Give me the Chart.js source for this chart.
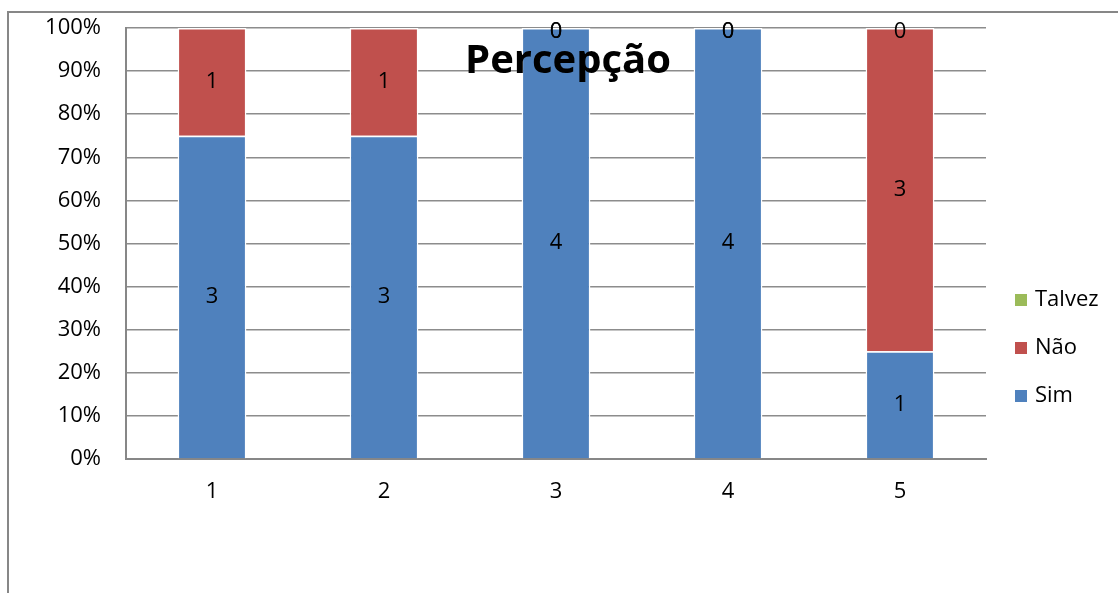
<!DOCTYPE html>
<html>
<head>
<meta charset="utf-8">
<script src="https://cdn.jsdelivr.net/npm/chart.js@4/dist/chart.umd.min.js"></script>
<style>
  html, body { margin: 0; padding: 0; background: #fff; }
  #wrap { width: 1118px; height: 593px; position: relative; }
</style>
</head>
<body>
<div id="wrap"><canvas id="mainChart"></canvas></div>
<script>
// Daten
const categories = ['1', '2', '3', '4', '5'];
const simCounts = [3, 3, 4, 4, 1];
const naoCounts = [1, 1, 0, 0, 3];
const talvezCounts = [null, null, 0, 0, 0];
const seriesNames = ['Sim', 'Não', 'Talvez'];
const seriesColors = ['#4F81BD', '#C0504D', '#9BBB59'];
const chartTitle = 'Percepção';

const FONT = '"Open Sans", "DejaVu Sans", sans-serif';
const FONT_SIZE = 22;

// Umrechnung in Prozent (100% gestapelt)
const totals = categories.map((c, i) =>
    (simCounts[i] || 0) + (naoCounts[i] || 0) + (talvezCounts[i] || 0));
const toPct = arr => arr.map((v, i) => v === null ? null : v / totals[i] * 100);

const rawCounts = [simCounts, naoCounts, talvezCounts];

const datasets = rawCounts.map((arr, k) => ({
    label: seriesNames[k],
    data: toPct(arr),
    backgroundColor: seriesColors[k],
    borderColor: '#ffffff',
    borderWidth: 1.5,
    borderSkipped: 'start',
    barPercentage: 0.4,
    categoryPercentage: 1.0
}));

// Rahmen um das Diagramm
const framePlugin = {
    id: 'frame',
    beforeDraw(chart) {
        const ctx = chart.ctx;
        ctx.save();
        ctx.strokeStyle = '#878787';
        ctx.lineWidth = 2;
        ctx.beginPath();
        ctx.moveTo(8, chart.height + 5);
        ctx.lineTo(8, 12);
        ctx.lineTo(chart.width + 5, 12);
        ctx.stroke();
        ctx.restore();
    }
};

// Datenbeschriftungen, Titel und Legende
const labelPlugin = {
    id: 'labels',
    afterDatasetsDraw(chart) {
        const ctx = chart.ctx;
        ctx.save();
        ctx.font = FONT_SIZE + 'px ' + FONT;
        ctx.fillStyle = '#000';
        ctx.textAlign = 'center';
        ctx.textBaseline = 'middle';
        chart.data.datasets.forEach((ds, k) => {
            const meta = chart.getDatasetMeta(k);
            meta.data.forEach((el, i) => {
                const v = rawCounts[k][i];
                if (v === null) return;
                const y = (el.y + el.base) / 2;
                ctx.fillText(String(v), el.x, v === 0 ? y + 4 : y);
            });
        });

        // Titel
        ctx.font = 'bold 40px ' + FONT;
        ctx.fillText(chartTitle, 568, 62);

        // Legende (umgekehrte Reihenfolge)
        ctx.font = FONT_SIZE + 'px ' + FONT;
        ctx.textAlign = 'left';
        const order = [2, 1, 0];
        order.forEach((k, j) => {
            const y = 300 + j * 48;
            ctx.fillStyle = seriesColors[k];
            ctx.fillRect(1015, y - 6, 12, 12);
            ctx.fillStyle = '#000';
            ctx.fillText(seriesNames[k], 1035, y);
        });
        ctx.restore();
    }
};

new Chart(document.getElementById('mainChart').getContext('2d'), {
    type: 'bar',
    data: { labels: categories, datasets },
    plugins: [framePlugin, labelPlugin],
    options: {
        responsive: true,
        maintainAspectRatio: false,
        animation: false,
        layout: { padding: { top: 28, right: 132, left: 0, bottom: 0 } },
        plugins: {
            legend: { display: false },
            title: { display: false },
            tooltip: { enabled: false }
        },
        scales: {
            x: {
                stacked: true,
                grid: { display: false, drawTicks: false },
                border: { display: true, color: '#878787', width: 2 },
                ticks: { color: '#000', font: { family: FONT, size: FONT_SIZE }, padding: 20 },
                afterFit: scale => {
                    scale.height = 134;
                    scale.paddingLeft = 0;
                    scale.paddingRight = 0;
                }
            },
            y: {
                stacked: true,
                min: 0,
                max: 100,
                grid: { color: '#8c8c8c', lineWidth: 1.5, drawTicks: false },
                border: { display: true, color: '#878787', width: 2 },
                ticks: {
                    stepSize: 10,
                    color: '#000',
                    padding: 25,
                    font: { family: FONT, size: FONT_SIZE },
                    callback: v => v + '%'
                },
                afterFit: scale => {
                    scale.width = 126;
                    scale.paddingTop = 0;
                    scale.paddingBottom = 0;
                }
            }
        }
    }
});
</script>
</body>
</html>
